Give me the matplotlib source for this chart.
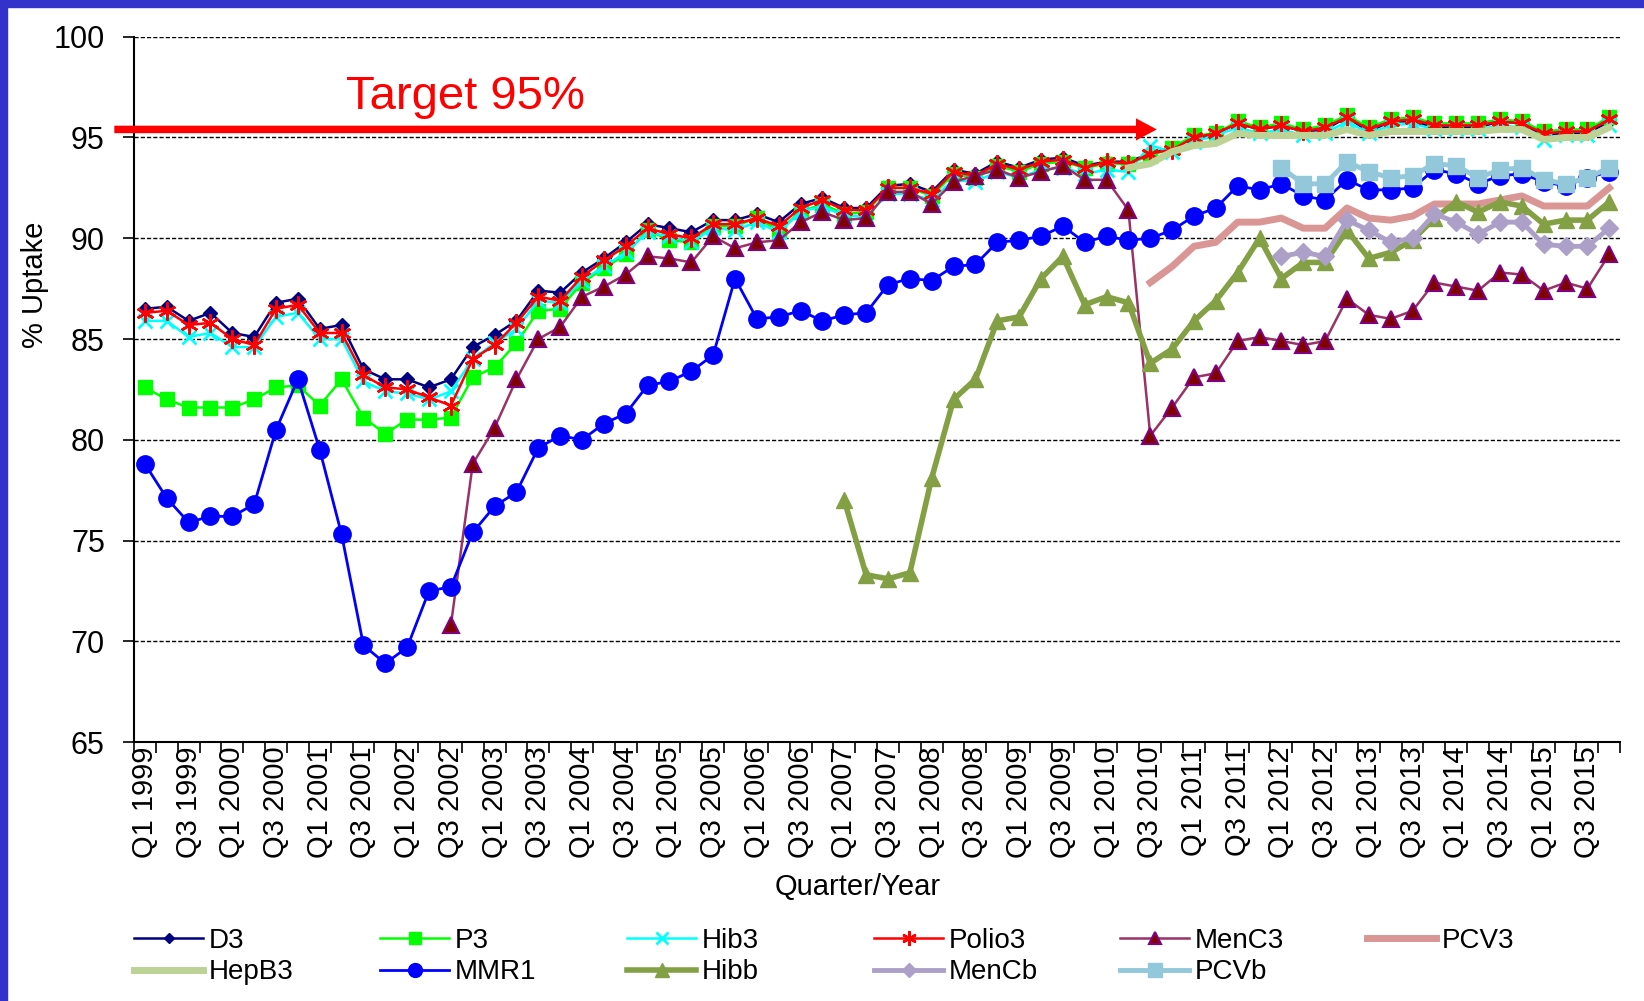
import numpy as np
import matplotlib
matplotlib.use("Agg")
import matplotlib.pyplot as plt
from matplotlib.patches import Rectangle

plt.rcParams['font.family'] = ['Liberation Sans', 'DejaVu Sans']

nan = np.nan

# quarters Q1 1999 .. Q4 2015
years = list(range(1999, 2016))
quarters = ["Q%d %d" % (q, y) for y in years for q in (1, 2, 3, 4)]
tick_labels = [lab for lab in quarters if lab.startswith("Q1") or lab.startswith("Q3")]

d3 = [86.5, 86.6, 85.9, 86.3, 85.3, 85.1, 86.8, 87.0, 85.5, 85.7, 83.5, 83.0, 83.0, 82.6, 83.0, 84.6, 85.2,
      85.9, 87.4, 87.3, 88.3, 89.0, 89.8, 90.7, 90.5, 90.3, 90.9, 90.9, 91.2, 90.8, 91.7, 92.0, 91.5, 91.5,
      92.6, 92.7, 92.3, 93.4, 93.2, 93.8, 93.5, 93.9, 94.0, 93.6, 93.8, 93.8, 94.2, 94.5, 95.0, 95.2, 95.7,
      95.4, 95.6, 95.3, 95.4, 96.0, 95.3, 95.8, 95.8, 95.5, 95.5, 95.5, 95.8, 95.7, 95.1, 95.2, 95.2, 95.8]
p3 = [82.6, 82.0, 81.6, 81.6, 81.6, 82.0, 82.6, 82.7, 81.7, 83.0, 81.1, 80.3, 81.0, 81.0, 81.1, 83.1, 83.6,
      84.8, 86.4, 86.5, 87.8, 88.5, 89.2, 90.4, 89.9, 89.8, 90.6, 90.6, 91.0, 90.4, 91.3, 91.7, 91.2, 91.3,
      92.5, 92.5, 92.1, 93.2, 93.0, 93.6, 93.3, 93.7, 93.8, 93.5, 93.7, 93.7, 94.1, 94.5, 95.1, 95.2, 95.8,
      95.5, 95.7, 95.4, 95.6, 96.1, 95.5, 95.9, 96.0, 95.7, 95.7, 95.7, 95.9, 95.8, 95.3, 95.4, 95.4, 96.0]
hib3 = [85.9, 85.9, 85.1, 85.3, 84.6, 84.6, 86.1, 86.3, 85.0, 85.0, 82.9, 82.4, 82.3, 82.0, 82.4, 84.0, 84.8,
        85.5, 86.9, 86.8, 87.9, 88.6, 89.3, 90.3, 90.1, 89.8, 90.5, 90.4, 90.8, 90.3, 91.3, 91.6, 91.1, 91.1,
        92.2, 92.2, 91.9, 92.9, 92.8, 93.3, 93.0, 93.4, 93.5, 93.2, 93.4, 93.3, 94.6, 94.3, 94.8, 95.1, 95.5,
        95.2, 95.4, 95.1, 95.2, 95.8, 95.2, 95.6, 95.7, 95.4, 95.4, 95.4, 95.6, 95.5, 94.9, 95.1, 95.1, 95.6]
polio3 = [86.3, 86.4, 85.7, 85.8, 85.0, 84.7, 86.5, 86.7, 85.3, 85.3, 83.2, 82.6, 82.5, 82.1, 81.7, 84.0, 84.7,
          85.8, 87.1, 86.9, 88.1, 88.9, 89.6, 90.5, 90.2, 90.0, 90.7, 90.7, 91.0, 90.6, 91.5, 91.9, 91.4, 91.4,
          92.5, 92.5, 92.2, 93.3, 93.1, 93.7, 93.4, 93.8, 93.9, 93.5, 93.8, 93.7, 94.2, 94.4, 95.0, 95.2, 95.7,
          95.4, 95.6, 95.3, 95.5, 96.0, 95.4, 95.8, 95.9, 95.6, 95.6, 95.6, 95.8, 95.7, 95.2, 95.3, 95.3, 95.9]
menc3 = [nan] * 14 + [70.8, 78.8, 80.6, 83.0, 85.0, 85.6, 87.1, 87.6, 88.2, 89.1, 89.0, 88.8, 90.1, 89.5,
                      89.8, 89.9, 90.8, 91.3, 90.9, 91.0, 92.3, 92.3, 91.7, 92.8, 93.1, 93.4, 93.0, 93.3,
                      93.6, 92.9, 92.9, 91.4, 80.2, 81.6, 83.1, 83.3, 84.9, 85.1, 84.9, 84.7, 84.9, 87.0,
                      86.2, 86.0, 86.4, 87.8, 87.6, 87.4, 88.3, 88.2, 87.4, 87.8, 87.5, 89.2]
pcv3 = [nan] * 46 + [87.8, 88.6, 89.6, 89.8, 90.8, 90.8, 91.0, 90.5, 90.5, 91.5, 91.0, 90.9, 91.1, 91.7,
                     91.7, 91.7, 91.9, 92.1, 91.6, 91.6, 91.6, 92.5]
hepb3 = [nan] * 45 + [93.5, 93.7, 94.3, 94.6, 94.7, 95.2, 95.1, 95.1, 95.1, 95.1, 95.4, 95.1, 95.3, 95.3,
                      95.3, 95.3, 95.3, 95.4, 95.4, 94.9, 95.0, 95.0, 95.5]
mmr1 = [78.8, 77.1, 75.9, 76.2, 76.2, 76.8, 80.5, 83.0, 79.5, 75.3, 69.8, 68.9, 69.7, 72.5, 72.7, 75.4, 76.7,
        77.4, 79.6, 80.2, 80.0, 80.8, 81.3, 82.7, 82.9, 83.4, 84.2, 88.0, 86.0, 86.1, 86.4, 85.9, 86.2, 86.3,
        87.7, 88.0, 87.9, 88.6, 88.7, 89.8, 89.9, 90.1, 90.6, 89.8, 90.1, 89.9, 90.0, 90.4, 91.1, 91.5, 92.6,
        92.4, 92.7, 92.1, 91.9, 92.9, 92.4, 92.4, 92.5, 93.4, 93.2, 92.7, 93.1, 93.2, 92.8, 92.6, 93.0, 93.3]
hibb = [nan] * 32 + [77.0, 73.3, 73.1, 73.4, 78.1, 82.0, 83.0, 85.9, 86.1, 88.0, 89.1, 86.7, 87.1, 86.8,
                     83.8, 84.5, 85.9, 86.9, 88.3, 90.0, 88.0, 88.8, 88.8, 90.4, 89.0, 89.3, 89.9, 91.0,
                     91.8, 91.3, 91.8, 91.6, 90.7, 90.9, 90.9, 91.8]
mencb = [nan] * 52 + [89.1, 89.3, 89.1, 90.9, 90.4, 89.8, 90.0, 91.2, 90.8, 90.2, 90.8, 90.8, 89.7, 89.6,
                      89.6, 90.5]
pcvb = [nan] * 52 + [93.5, 92.7, 92.7, 93.8, 93.3, 93.0, 93.1, 93.7, 93.6, 93.0, 93.4, 93.5, 92.9, 92.7,
                     93.0, 93.5]

x = np.arange(len(quarters))

fig = plt.figure(figsize=(16.44, 10.01), dpi=100)
# blue frame at top and left
fig.patches.append(Rectangle((0, 1 - 7 / 1001), 1, 7 / 1001, transform=fig.transFigure, color='#3333CC'))
fig.patches.append(Rectangle((0, 0), 7 / 1644, 1, transform=fig.transFigure, color='#3333CC'))

ax = fig.add_axes([0.0815, 0.2587, 0.904, 0.7046])

h = {}
h['D3'], = ax.plot(x, d3, color='#000080', marker='D', ms=7, lw=1.8)
h['P3'], = ax.plot(x, p3, color='#00FF00', marker='s', ms=10, lw=1.8)
h['Hib3'], = ax.plot(x, hib3, color='#00FFFF', marker='x', ms=10, mew=2, lw=1.8)
h['Polio3'], = ax.plot(x, polio3, color='#FF0000', marker=(6, 2, 0), ms=13, mew=1.8, lw=1.8)
h['MenC3'], = ax.plot(x, menc3, color='#993366', marker='^', mfc='#800000', mec='#800080', mew=1.5,
                      ms=11, lw=1.8)
h['PCV3'], = ax.plot(x, pcv3, color='#D99694', lw=5)
h['HepB3'], = ax.plot(x, hepb3, color='#BCD395', lw=5)
h['MMR1'], = ax.plot(x, mmr1, color='#0000FF', marker='o', ms=12.5, lw=2)
h['Hibb'], = ax.plot(x, hibb, color='#84A044', marker='^', ms=12, lw=4)
h['MenCb'], = ax.plot(x, mencb, color='#ADA0C8', marker='D', ms=9, lw=3.5)
h['PCVb'], = ax.plot(x, pcvb, color='#93C8DA', marker='s', ms=12, lw=3.5)

ax.set_xlim(-0.5, len(quarters) - 0.5)
ax.set_ylim(65, 100)
ax.set_yticks(np.arange(65, 101, 5))
ax.yaxis.grid(True, linestyle=(0, (3, 1.5)), color='black', lw=1)
ax.set_axisbelow(True)
for s in ('top', 'right'):
    ax.spines[s].set_visible(False)
ax.spines['left'].set_linewidth(1.5)
ax.spines['bottom'].set_linewidth(1.5)

ax.set_xticks(np.arange(-0.5, len(quarters), 1))
ax.set_xticklabels([])
ax.set_xticks(x[::2], tick_labels, minor=True)
ax.tick_params(axis='x', which='major', direction='out', length=8, width=1.2)
ax.tick_params(axis='x', which='minor', length=0, pad=3, labelsize=21, labelrotation=90)
ax.tick_params(axis='y', direction='out', length=8, width=1.2, pad=13, labelsize=22)

# target arrow
ax.annotate('', xy=(46.3, 95.4), xytext=(-1.4, 95.4), annotation_clip=False,
            arrowprops=dict(arrowstyle='simple,head_length=0.75,head_width=0.8,tail_width=0.27',
                            color='red', lw=0, mutation_scale=20, shrinkA=0, shrinkB=0))
ax.text(9.2, 97.0, 'Target 95%', color='red', fontsize=34, ha='left', va='center')

fig.text(0.522, 0.114, 'Quarter/Year', ha='center', va='center', fontsize=21)
fig.text(0.021, 0.715, '% Uptake', ha='center', va='center', rotation=90, fontsize=21)

# legend, Excel-like evenly spaced columns
columns = [['D3', 'HepB3'], ['P3', 'MMR1'], ['Hib3', 'Hibb'], ['Polio3', 'MenCb'],
           ['MenC3', 'PCVb'], ['PCV3']]
col_x = [134, 380, 627, 874, 1120, 1367]
for names, cx in zip(columns, col_x):
    fig.legend([h[n] for n in names], names, loc='upper left', bbox_to_anchor=(cx / 1644, 0.073),
               frameon=False, borderaxespad=0, borderpad=0, handlelength=2.5, handletextpad=0.2,
               labelspacing=0.2, fontsize=20, markerscale=0.8)

plt.savefig('out.png', dpi=100)
